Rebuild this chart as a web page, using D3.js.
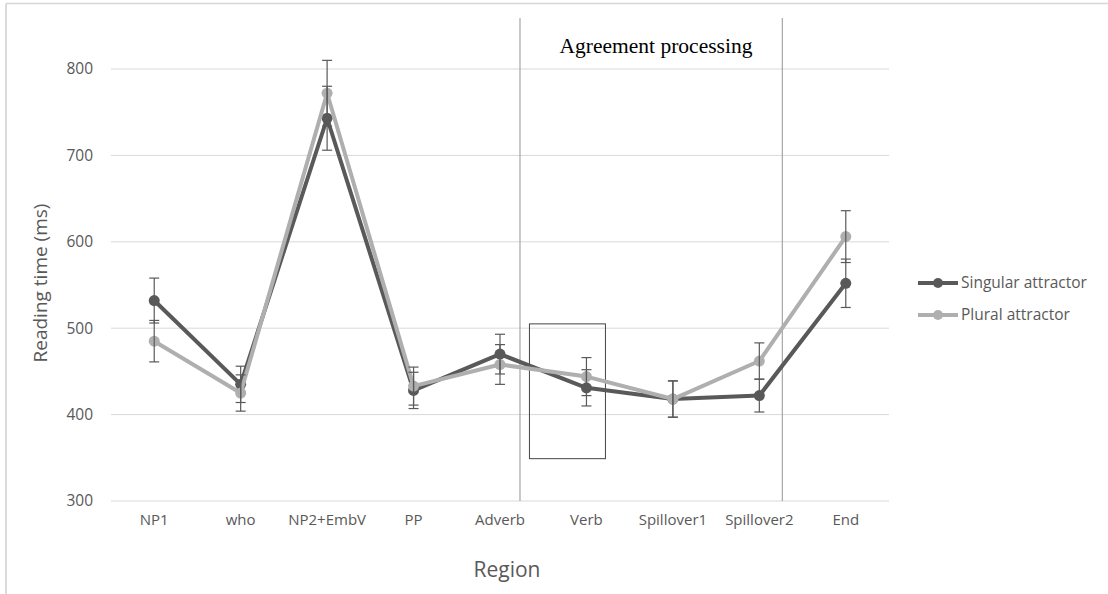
<!DOCTYPE html>
<html>
<head>
<meta charset="utf-8">
<script src="https://cdn.jsdelivr.net/npm/d3@7"></script>
<style>
  body { margin: 0; background: #fff; }
  text { font-family: "Open Sans", "Liberation Sans", sans-serif; }
</style>
</head>
<body>
<svg id="chart"></svg>
<script>
var canvas_width = 1108;
var canvas_height = 594;

// data
var regions = ["NP1", "who", "NP2+EmbV", "PP", "Adverb", "Verb", "Spillover1", "Spillover2", "End"];
var singular = [532, 435, 743, 428, 470, 431, 418, 422, 552];
var singular_err = [26, 21, 37, 21, 23, 21, 21, 19, 28];
var plural = [485, 425, 772, 433, 458, 444, 418, 462, 606];
var plural_err = [24, 21, 38, 22, 23, 22, 21, 21, 30];
var y_ticks = [300, 400, 500, 600, 700, 800];
var series_names = ["Singular attractor", "Plural attractor"];
var colour = ["#595959", "#afafaf"];

var plot_left = 111, plot_right = 889, plot_top = 18, plot_bottom = 501;

let svg = d3.select("#chart");
svg.attr("width", canvas_width).attr("height", canvas_height);

// frame edge
svg.append("line").attr("x1", 6).attr("x2", canvas_width).attr("y1", 3.5).attr("y2", 3.5)
    .attr("stroke", "#d6d6d6").attr("stroke-width", 1.5);
svg.append("line").attr("x1", 6).attr("x2", 6).attr("y1", 3.5).attr("y2", canvas_height)
    .attr("stroke", "#cfcfcf").attr("stroke-width", 1.5);

let x = d3.scaleBand().domain(regions).range([plot_left, plot_right]);
let y = d3.scaleLinear().domain([300, 860]).range([plot_bottom, plot_bottom - 560 * 0.864]);

// grid
svg.selectAll(".grid")
    .data(y_ticks)
    .join("line")
    .attr("class", "grid")
    .attr("x1", plot_left)
    .attr("x2", plot_right)
    .attr("y1", d => y(d))
    .attr("y2", d => y(d))
    .attr("stroke", "#d9d9d9")
    .attr("stroke-width", 1);

// y axis labels
let yAxis = d3.axisLeft(y).tickValues(y_ticks).tickSize(0).tickPadding(0);
let gy = svg.append("g").attr("transform", "translate(" + 93 + ",0)").call(yAxis);
gy.select(".domain").remove();
gy.selectAll("text").attr("fill", "#595959").style("font-size", "15.5px")
    .style("font-family", "'Open Sans', sans-serif");

// x axis labels
let xAxis = d3.axisBottom(x).tickSize(0).tickPadding(0);
let gx = svg.append("g").attr("transform", "translate(0," + 514 + ")").call(xAxis);
gx.select(".domain").remove();
gx.selectAll("text").attr("fill", "#595959").style("font-size", "15px")
    .style("font-family", "'Open Sans', sans-serif");

// axis titles
svg.append("text")
    .attr("transform", "translate(47,283) rotate(-90)")
    .attr("text-anchor", "middle")
    .attr("fill", "#595959")
    .style("font-size", "19px")
    .text("Reading time (ms)");

svg.append("text")
    .attr("x", 507)
    .attr("y", 577)
    .attr("text-anchor", "middle")
    .attr("fill", "#595959")
    .style("font-size", "21px")
    .text("Region");

// agreement processing region markers
let cx = d => x(d) + x.bandwidth() / 2;
let sep1 = cx("Adverb") + 20, sep2 = cx("Spillover2") + 23;
[sep1, sep2].forEach(function(s){
    svg.append("line")
        .attr("x1", s).attr("x2", s)
        .attr("y1", plot_top).attr("y2", plot_bottom)
        .attr("stroke", "#a6a6a6").attr("stroke-width", 1.2);
});
svg.append("text")
    .attr("x", 656)
    .attr("y", 53)
    .attr("text-anchor", "middle")
    .attr("fill", "#000")
    .style("font-family", "'Liberation Serif', 'Times New Roman', serif")
    .style("font-size", "21.5px")
    .text("Agreement processing");

// box around the verb
svg.append("rect")
    .attr("x", cx("Verb") - 57)
    .attr("y", y(505))
    .attr("width", 76)
    .attr("height", y(349) - y(505))
    .attr("fill", "none")
    .attr("stroke", "#444")
    .attr("stroke-width", 1);

let data = [
    regions.map((r, i) => ({region: r, v: singular[i], e: singular_err[i], id: 0})),
    regions.map((r, i) => ({region: r, v: plural[i], e: plural_err[i], id: 1}))
];

let line = d3.line().x(d => cx(d.region)).y(d => y(d.v));

// series lines (singular first, plural on top)
data.forEach(function(s, k){
    svg.append("path")
        .datum(s)
        .attr("d", line)
        .attr("fill", "none")
        .attr("stroke", colour[k])
        .attr("stroke-width", 4)
        .attr("stroke-linejoin", "round");
    svg.selectAll(".dot-" + k)
        .data(s)
        .join("circle")
        .attr("class", "dot-" + k)
        .attr("cx", d => cx(d.region))
        .attr("cy", d => y(d.v))
        .attr("r", 5.5)
        .attr("fill", colour[k]);
});

// error bars
data.forEach(function(s, k){
    let g = svg.append("g").attr("class", "err-" + k);
    g.selectAll("line.v")
        .data(s).join("line").attr("class", "v")
        .attr("x1", d => cx(d.region)).attr("x2", d => cx(d.region))
        .attr("y1", d => y(d.v - d.e)).attr("y2", d => y(d.v + d.e))
        .attr("stroke", "#595959").attr("stroke-width", 1.2);
    ["hi", "lo"].forEach(function(w){
        g.selectAll("line." + w)
            .data(s).join("line").attr("class", w)
            .attr("x1", d => cx(d.region) - 5).attr("x2", d => cx(d.region) + 5)
            .attr("y1", d => y(w == "hi" ? d.v + d.e : d.v - d.e))
            .attr("y2", d => y(w == "hi" ? d.v + d.e : d.v - d.e))
            .attr("stroke", "#595959").attr("stroke-width", 1.2);
    });
});

// legend
series_names.forEach(function(name, k){
    let ly = 283 + k * 32;
    svg.append("line")
        .attr("x1", 918).attr("x2", 958)
        .attr("y1", ly).attr("y2", ly)
        .attr("stroke", colour[k]).attr("stroke-width", 4);
    svg.append("circle")
        .attr("cx", 938).attr("cy", ly).attr("r", 5)
        .attr("fill", colour[k]);
    svg.append("text")
        .attr("x", 961).attr("y", ly + 5)
        .attr("fill", "#595959")
        .style("font-size", "15.5px")
        .text(name);
});
</script>
</body>
</html>
